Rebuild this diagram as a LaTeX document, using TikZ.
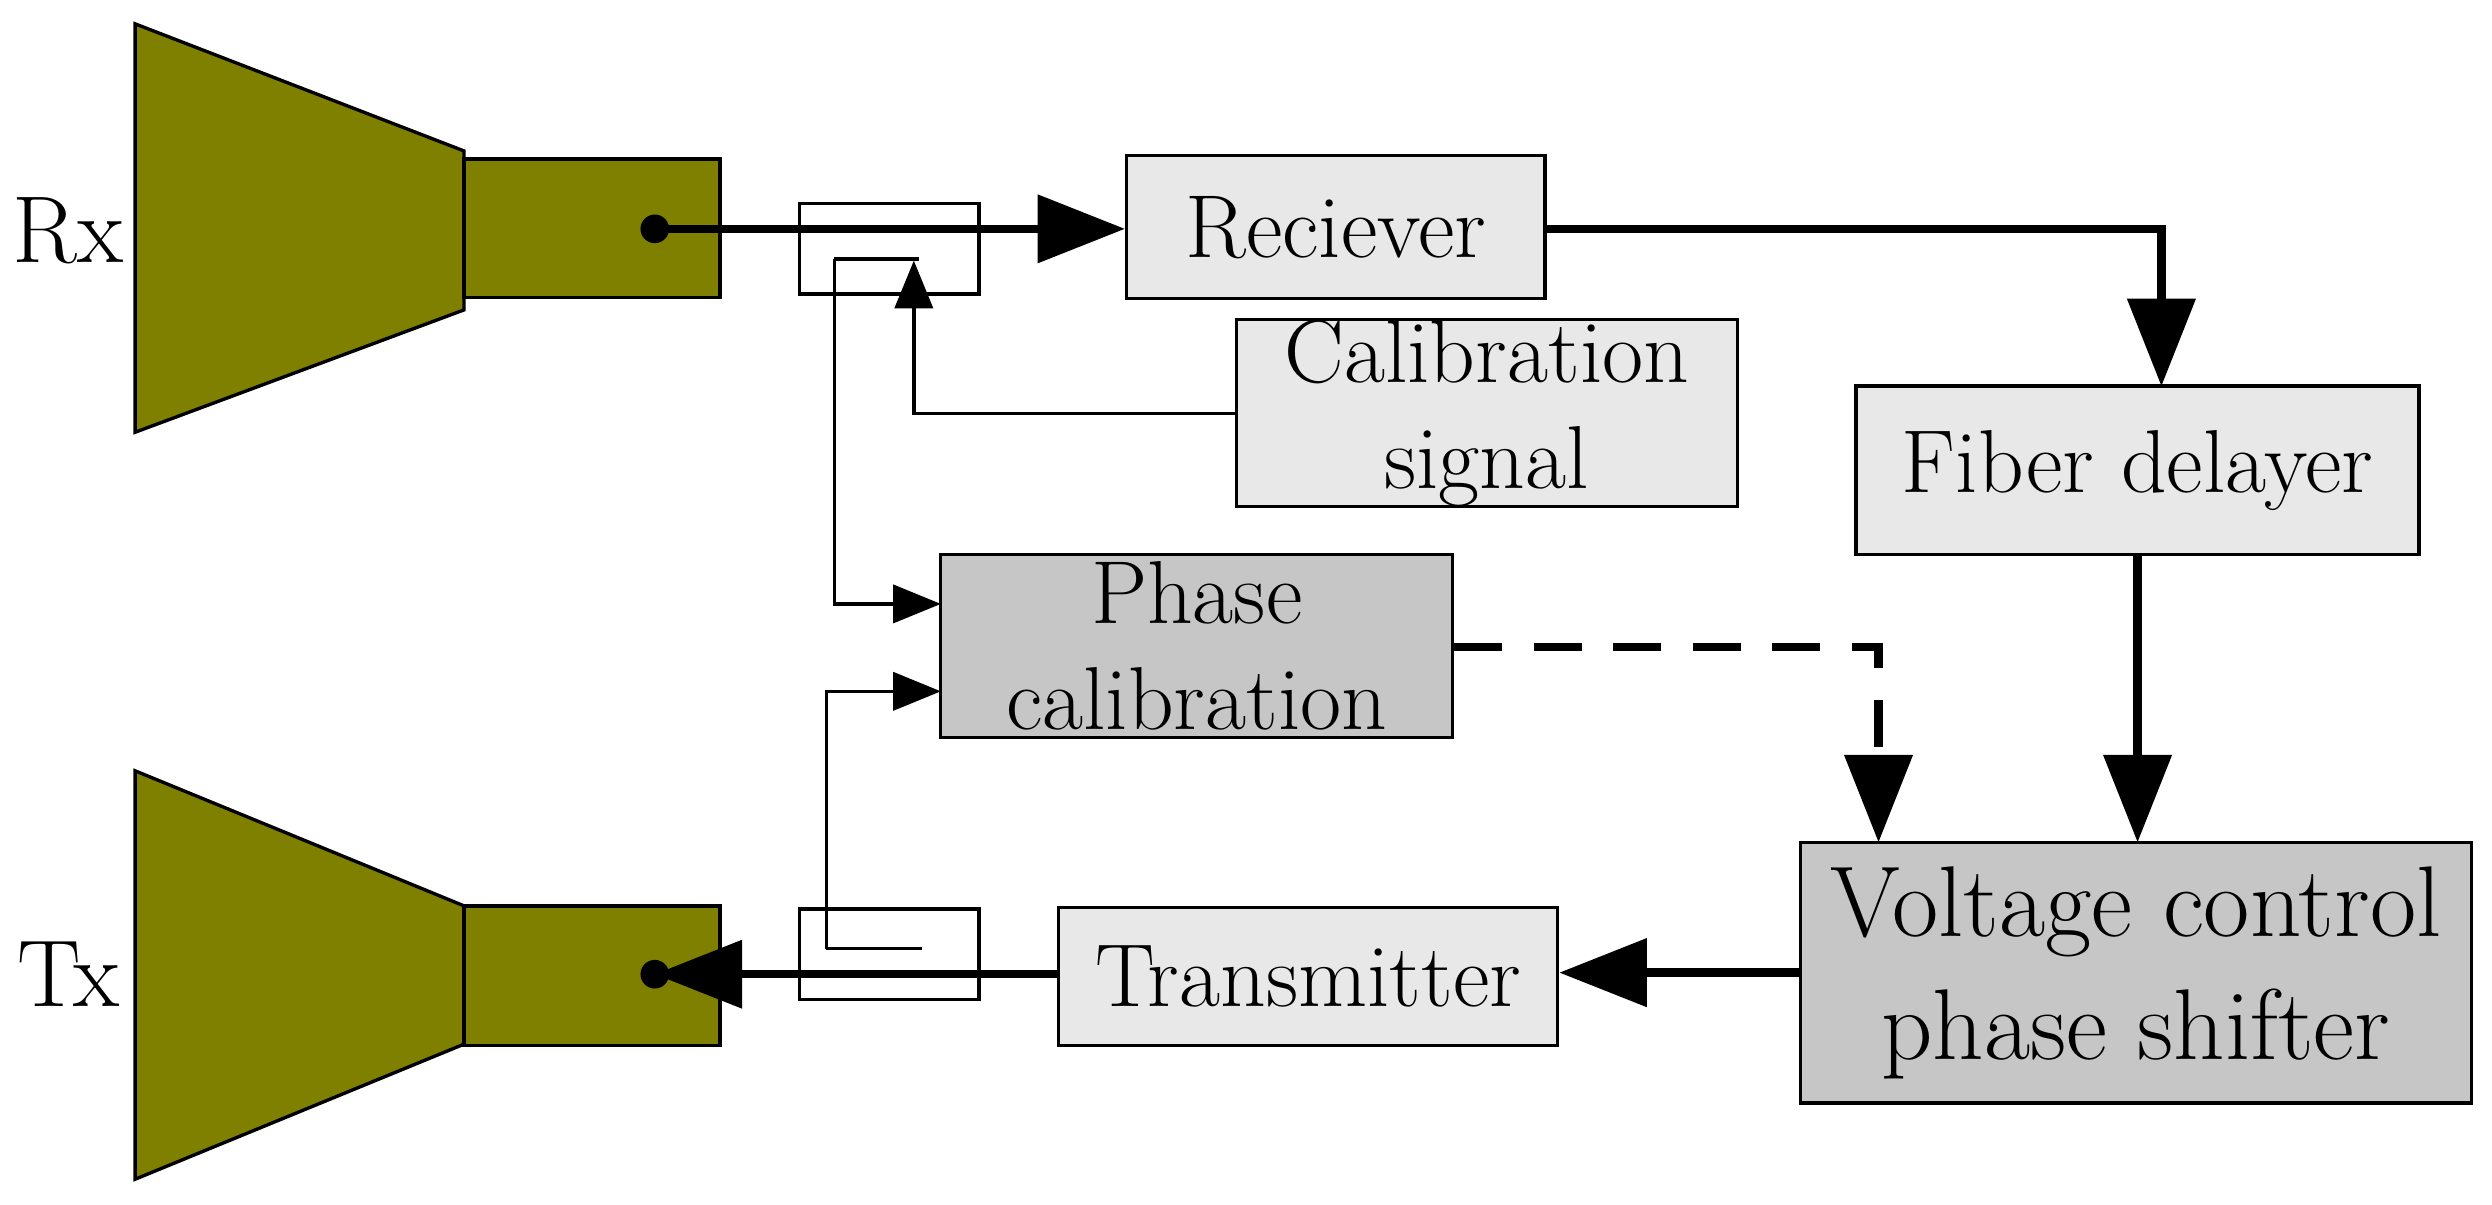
\documentclass[tikz,border=0pt]{standalone}
\usetikzlibrary{arrows.meta}
\begin{document}
\begin{tikzpicture}[x=0.01cm,y=-0.01cm,
  txt/.style={font=\fontsize{16}{19}\selectfont},
  box/.style={draw,line width=0.6pt,fill=gray!18,inner sep=0pt,align=center,txt},
  dbox/.style={box,fill=gray!45},
  thick/.style={line width=1.5pt,-{Triangle[length=0.55cm,width=0.42cm]}},
  thin/.style={line width=0.6pt,-{Triangle[length=0.3cm,width=0.24cm]}},
  horn/.style={draw,line width=0.6pt,fill={rgb,255:red,128;green,128;blue,0}}]
\useasboundingbox (0,0) rectangle (1568,758);
% horns
\draw[horn] (85,15) -- (292,95) -- (292,195) -- (85,272) -- cycle;
\draw[horn] (292,100) rectangle (453,187);
\draw[horn] (85,485) -- (292,570) -- (292,657) -- (85,742) -- cycle;
\draw[horn] (292,570) rectangle (453,658);
\node[txt,font=\fontsize{17}{20}\selectfont] (rx) at (43,145) {Rx};
\node[txt,font=\fontsize{17}{20}\selectfont] (tx) at (43,613) {Tx};
\fill (412,144) circle (9) coordinate (rxd);
\fill (412,613) circle (9) coordinate (txd);
% couplers
\draw[line width=0.6pt] (503,128) rectangle (616,185);
\draw[line width=0.6pt] (503,572) rectangle (616,629);
% boxes
\node[box,minimum width=2.63cm,minimum height=0.9cm] (rec) at (840.5,143) {Reciever};
\node[box,minimum width=3.15cm,minimum height=1.1cm] (cal) at (935.5,260) {Calibration\\signal};
\node[box,minimum width=3.54cm,minimum height=1.06cm] (fib) at (1345,296) {Fiber delayer};
\node[dbox,minimum width=3.22cm,minimum height=1.15cm] (pc) at (753,406.5) {Phase\\calibration};
\node[dbox,minimum width=4.22cm,minimum height=1.64cm,font=\fontsize{18}{22}\selectfont] (vc) at (1344,612) {Voltage control\\phase shifter};
\node[box,minimum width=3.14cm,minimum height=0.87cm] (tr) at (823,614.5) {Transmitter};
% coordinates
\coordinate (a1) at (525,163); \coordinate (a2) at (578,163);
\coordinate (b1) at (520,597); \coordinate (b2) at (580,597);
% connectors
\draw[thick] (rxd) -- (rec.west |- rxd);
\draw[thick] (rec.east |- rxd) -- (1360,144) -- (1360,243);
\draw[thin] (cal.west) -- (575,260) -- (575,164);
\draw[line width=0.6pt] (a2) -- (a1);
\draw[thin] (a1) -- (525,380) -- (592,380);
\draw[line width=0.6pt] (b2) -- (b1);
\draw[thin] (b1) -- (520,435) -- (592,435);
\draw[thick,dash pattern=on 0.3cm off 0.2cm] (pc.east |- 0,407) -- (1182,407) -- (1182,530);
\draw[thick] (1345,349) -- (1345,530);
\draw[thick] (vc.west) -- (tr.east |- vc.west);
\draw[thick] (tr.west |- 0,613) -- (txd);
\end{tikzpicture}
\end{document}
